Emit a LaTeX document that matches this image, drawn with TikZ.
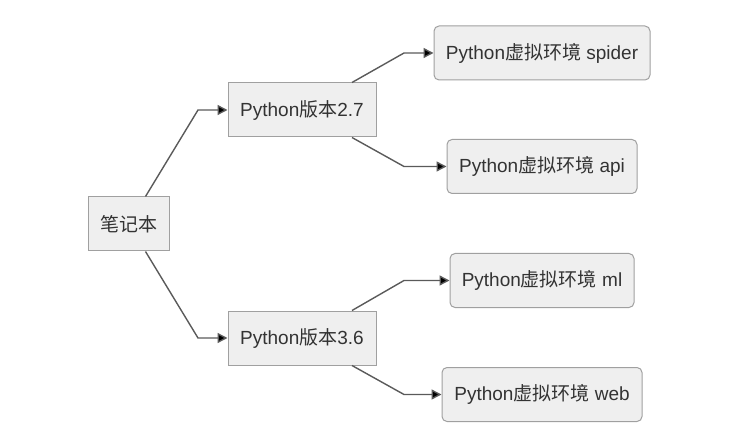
\documentclass[tikz,border=0pt]{standalone}
\usepackage{fontspec}
\setmainfont{Liberation Sans}
\newfontfamily\cjk{Noto Sans CJK SC}
\usepackage{tikz}
\usetikzlibrary{arrows.meta,positioning,calc}
\definecolor{boxfill}{RGB}{239,239,239}
\definecolor{boxline}{RGB}{160,160,160}
\definecolor{linkgray}{RGB}{90,90,90}
\definecolor{textgray}{RGB}{51,51,51}
\newcommand{\zh}[1]{{\cjk #1}}

\begin{document}
\begin{tikzpicture}[x=1pt,y=-1pt,
    font=\fontsize{19}{23}\selectfont,
    box/.style={draw=boxline,fill=boxfill,line width=1pt,text=textgray,
                minimum height=54pt,inner sep=0pt},
    leaf/.style={box,rounded corners=5pt},
    link/.style={draw=linkgray,line width=1.4pt,
                 -{Triangle[length=10pt,width=10pt,fill=black]}}]
  \useasboundingbox (0,0) rectangle (735,443);
  % root and versions
  \node[box,minimum width=81pt] (note) at (128.5,224) {\zh{笔记本}};
  \node[box,minimum width=148pt] (v27) at (302,110) {Python\zh{版本}2.7};
  \node[box,minimum width=148pt] (v36) at (302,338) {Python\zh{版本}3.6};
  % virtual envs
  \node[leaf,minimum width=216pt] (spider) at (542,53) {Python\zh{虚拟环境} spider};
  \node[leaf,minimum width=190pt] (api) at (542,166.5) {Python\zh{虚拟环境} api};
  \node[leaf,minimum width=184pt] (ml) at (542,280.5) {Python\zh{虚拟环境} ml};
  \node[leaf,minimum width=200pt] (web) at (542,394.5) {Python\zh{虚拟环境} web};
  % elbow columns
  \coordinate (e0) at (198,0);
  \coordinate (e1) at (404,0);
  \draw[link] ([xshift=17pt]note.north) -- (e0 |- v27.west) -- (v27.west);
  \draw[link] ([xshift=17pt]note.south) -- (e0 |- v36.west) -- (v36.west);
  \draw[link] ([xshift=50pt]v27.north) -- (e1 |- spider.west) -- (spider.west);
  \draw[link] ([xshift=50pt]v27.south) -- (e1 |- api.west) -- (api.west);
  \draw[link] ([xshift=50pt]v36.north) -- (e1 |- ml.west) -- (ml.west);
  \draw[link] ([xshift=50pt]v36.south) -- (e1 |- web.west) -- (web.west);
\end{tikzpicture}
\end{document}
